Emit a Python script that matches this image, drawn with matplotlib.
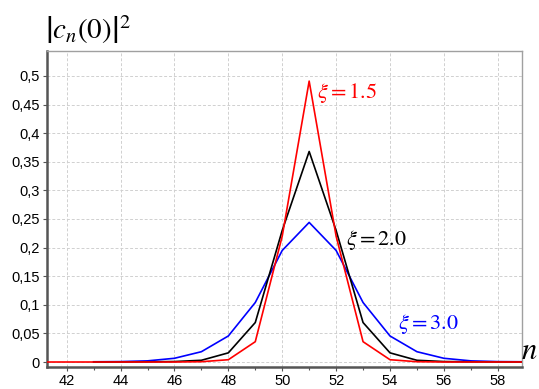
import numpy as np
import matplotlib.pyplot as plt
from matplotlib.ticker import MultipleLocator, FuncFormatter

plt.rcParams['mathtext.fontset'] = 'stix'

# |c_n(0)|^2
n_red = [41, 42, 43, 44, 45, 46, 47, 48, 49, 50, 51, 52, 53, 54, 55, 56, 57, 58, 59]
xi15 = [0, 0, 0, 0, 0, 0, 0.0005, 0.004, 0.0355, 0.22, 0.491, 0.22, 0.0355, 0.004, 0.0005, 0, 0, 0, 0]
n_other = [43, 44, 45, 46, 47, 48, 49, 50, 51, 52, 53, 54, 55, 56, 57, 58, 59]
xi20 = [0, 0, 0.0003, 0.0008, 0.003, 0.016, 0.069, 0.23, 0.368, 0.23, 0.069, 0.016, 0.003, 0.0008, 0.0003, 0, 0]
xi30 = [0.0004, 0.0007, 0.002, 0.0065, 0.018, 0.0455, 0.104, 0.195, 0.244, 0.195, 0.104, 0.0455, 0.018, 0.0065, 0.002, 0.0007, 0.0004]

fig = plt.figure(figsize=(5.39, 3.89), dpi=100)
ax = fig.add_axes([0.0872, 0.0566, 0.8813, 0.8124])

ax.plot(n_other, xi30, color='#0000ff', lw=1.2, zorder=3)
ax.plot(n_other, xi20, color='black', lw=1.2, zorder=4)
ax.plot(n_red, xi15, color='#ff0000', lw=1.2, zorder=5)

ax.set_xlim(41.27, 58.9)
ax.set_ylim(-0.0087, 0.5437)

ax.xaxis.set_major_locator(MultipleLocator(2))
ax.xaxis.set_minor_locator(MultipleLocator(1))
ax.yaxis.set_major_locator(MultipleLocator(0.05))
ax.yaxis.set_major_formatter(FuncFormatter(lambda v, p: ('%g' % round(v, 2)).replace('.', ',')))

ax.grid(True, which='major', color='#d0d0d0', linestyle=(0, (3, 2)), linewidth=0.7)
ax.set_axisbelow(True)

for side in ['left', 'bottom']:
    ax.spines[side].set_color('#555555')
    ax.spines[side].set_linewidth(1.8)
for side in ['top', 'right']:
    ax.spines[side].set_color('#a0a0a0')
    ax.spines[side].set_linewidth(1.0)

ax.tick_params(axis='both', which='major', direction='out', length=3, width=0.8,
               color='#555555', labelsize=10.5, pad=2)
ax.tick_params(axis='x', which='minor', direction='out', length=2, width=0.8, color='#555555')
for lab in ax.get_xticklabels() + ax.get_yticklabels():
    lab.set_family('Liberation Sans')

ax.text(51.3, 0.462, r'$\xi\mathrm{=1.5}$', color='#ff0000', fontsize=16)
ax.text(52.35, 0.205, r'$\xi\mathrm{=2.0}$', color='black', fontsize=16)
ax.text(54.3, 0.058, r'$\xi\mathrm{=3.0}$', color='#0000ff', fontsize=16)

fig.text(0.083, 0.882, r'$\left|c_n(0)\right|^2$', fontsize=21, ha='left', va='bottom')
fig.text(0.997, 0.062, r'$n$', fontsize=22, ha='right', va='bottom')

plt.savefig('out.png', dpi=100)
